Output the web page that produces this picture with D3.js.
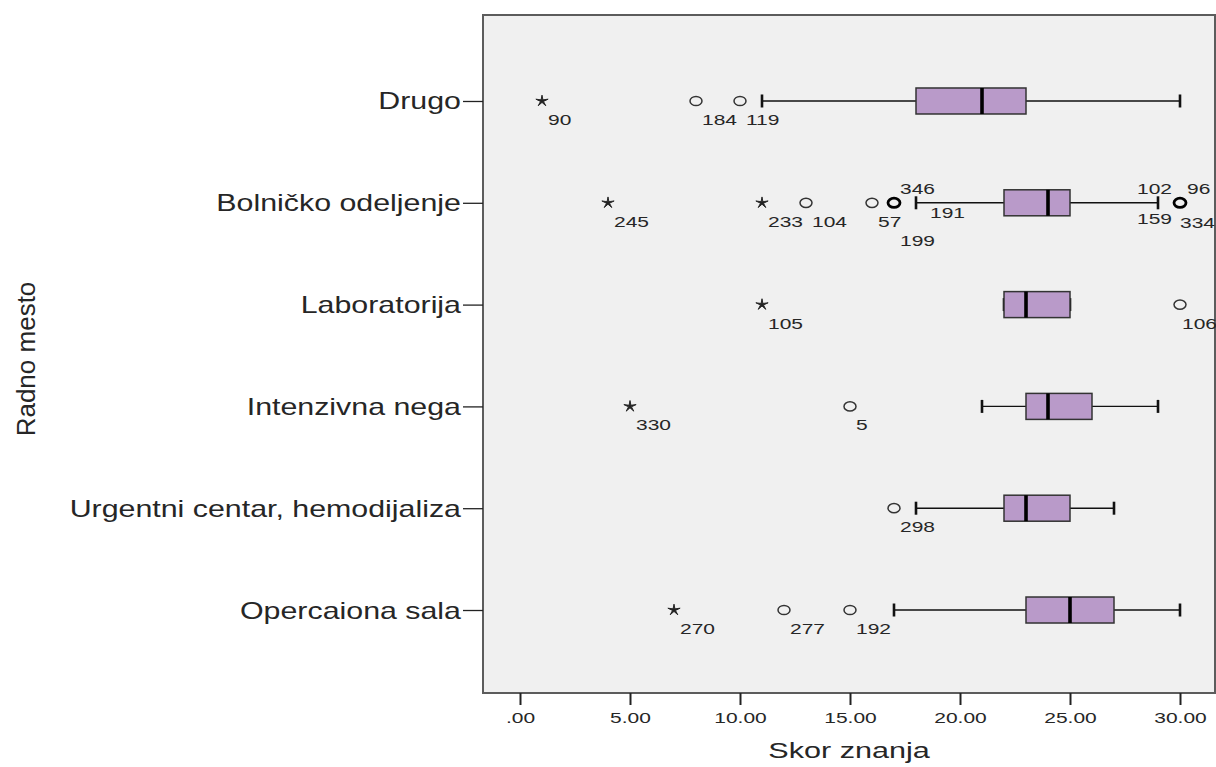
<!DOCTYPE html>
<html>
<head>
<meta charset="utf-8">
<script src="https://cdn.jsdelivr.net/npm/d3@7"></script>
<style>
  html, body { margin: 0; padding: 0; background: #ffffff; }
  svg text { font-family: "Liberation Sans", Arial, sans-serif; fill: #262626; }
</style>
</head>
<body>
<svg id="chart" width="1216" height="767"></svg>
<script>
// ---- data -------------------------------------------------------------
const categories = [
  "Drugo",
  "Bolničko odeljenje",
  "Laboratorija",
  "Intenzivna nega",
  "Urgentni centar, hemodijaliza",
  "Opercaiona sala"
];
const whiskerLow  = [11, 18, 22, 21, 18, 17];
const quartile1   = [18, 22, 22, 23, 22, 23];
const medians     = [21, 24, 23, 24, 23, 25];
const quartile3   = [23, 25, 25, 26, 25, 27];
const whiskerHigh = [30, 29, 25, 29, 27, 30];

// individual cases outside the whiskers: "o" = outlier, "*" = extreme
const caseCategory = [
  "Drugo", "Drugo", "Drugo",
  "Bolničko odeljenje", "Bolničko odeljenje", "Bolničko odeljenje", "Bolničko odeljenje",
  "Bolničko odeljenje", "Bolničko odeljenje", "Bolničko odeljenje",
  "Bolničko odeljenje", "Bolničko odeljenje", "Bolničko odeljenje", "Bolničko odeljenje",
  "Laboratorija", "Laboratorija",
  "Intenzivna nega", "Intenzivna nega",
  "Urgentni centar, hemodijaliza",
  "Opercaiona sala", "Opercaiona sala", "Opercaiona sala"
];
const caseScore = [
  1, 8, 10,
  4, 11, 13, 16,
  17, 17, 17,
  30, 30, 30, 30,
  11, 30,
  5, 15,
  17,
  7, 12, 15
];
const caseKind = [
  "*", "o", "o",
  "*", "*", "o", "o",
  "o", "o", "o",
  "o", "o", "o", "o",
  "*", "o",
  "*", "o",
  "o",
  "*", "o", "o"
];
const caseId = [
  "90", "184", "119",
  "245", "233", "104", "57",
  "346", "191", "199",
  "102", "96", "159", "334",
  "105", "106",
  "330", "5",
  "298",
  "270", "277", "192"
];

const xTickValues = [0, 5, 10, 15, 20, 25, 30];
const xTickLabels = [".00", "5.00", "10.00", "15.00", "20.00", "25.00", "30.00"];
const xTitle = "Skor znanja";
const yTitle = "Radno mesto";

// ---- layout -----------------------------------------------------------
const frame = { left: 483, right: 1215, top: 15, bottom: 693 };
const svg = d3.select("#chart");

const x = d3.scaleLinear().domain([0, 30]).range([frame.left + 37, frame.right - 35]);
const y = d3.scalePoint().domain(categories).range([frame.top + 2, frame.bottom + 1]).padding(0.825);

const boxHalf = 13;
const capHalf = 6.5;

// where a case label sits relative to its marker (text start, baseline)
const defaultNudge = [6, 24];
const labelNudge = {
  "346": [6, -9],
  "191": [36, 15],
  "199": [6, 43],
  "102": [-43, -9],
  "96":  [7, -9],
  "159": [-43, 21],
  "334": [0, 25],
  "106": [2, 24]
};

// text drawn with a horizontal stretch
function placeText(sel, px, py, sx) {
  sel.attr("x", 0).attr("y", 0)
     .attr("transform", `translate(${px},${py}) scale(${sx},1)`);
  return sel;
}

// ---- plot area --------------------------------------------------------
svg.append("rect")
  .attr("x", frame.left).attr("y", frame.top)
  .attr("width", frame.right - frame.left)
  .attr("height", frame.bottom - frame.top)
  .attr("fill", "#f0f0f0")
  .attr("stroke", "#5c5c5c")
  .attr("stroke-width", 2);

// ---- x axis -----------------------------------------------------------
const xAxis = d3.axisBottom(x)
  .tickValues(xTickValues)
  .tickFormat((d, i) => xTickLabels[i])
  .tickSize(12)
  .tickPadding(7);

const gx = svg.append("g")
  .attr("transform", `translate(0,${frame.bottom})`)
  .call(xAxis);
gx.select(".domain").remove();
gx.selectAll(".tick line").attr("stroke", "#222").attr("stroke-width", 2);
gx.selectAll(".tick text")
  .attr("font-size", 15)
  .attr("font-family", "'Liberation Sans', Arial, sans-serif")
  .attr("fill", "#262626")
  .attr("transform", "scale(1.4,1)");

placeText(svg.append("text"), (frame.left + frame.right) / 2, 758, 1.39)
  .attr("text-anchor", "middle")
  .attr("font-size", 22)
  .text(xTitle);

// ---- y axis -----------------------------------------------------------
const yAxis = d3.axisLeft(y).tickSize(20).tickFormat("");
const gy = svg.append("g")
  .attr("transform", `translate(${frame.left},0)`)
  .call(yAxis);
gy.select(".domain").remove();
gy.selectAll(".tick line").attr("stroke", "#222").attr("stroke-width", 1.3);

svg.append("g").selectAll("text")
  .data(categories)
  .join("text")
  .attr("text-anchor", "end")
  .attr("font-size", 23)
  .each(function (d) {
    placeText(d3.select(this), frame.left - 22, y(d) + 8.5, 1.32);
  })
  .text(d => d);

svg.append("text")
  .attr("transform", `translate(35,${(frame.top + frame.bottom) / 2 + 5}) rotate(-90)`)
  .attr("text-anchor", "middle")
  .attr("font-size", 26)
  .text(yTitle);

// ---- boxes ------------------------------------------------------------
const boxes = categories.map((c, i) => ({
  category: c,
  low: whiskerLow[i], q1: quartile1[i], med: medians[i], q3: quartile3[i], high: whiskerHigh[i]
}));

const gb = svg.append("g").selectAll("g")
  .data(boxes)
  .join("g")
  .attr("transform", d => `translate(0,${y(d.category)})`);

gb.append("line")
  .attr("x1", d => x(d.low)).attr("x2", d => x(d.high))
  .attr("stroke", "#111").attr("stroke-width", 1.4);

gb.selectAll(".cap")
  .data(d => [d.low, d.high])
  .join("line")
  .attr("class", "cap")
  .attr("x1", v => x(v)).attr("x2", v => x(v))
  .attr("y1", -capHalf).attr("y2", capHalf)
  .attr("stroke", "#111").attr("stroke-width", 2.6);

gb.append("rect")
  .attr("x", d => x(d.q1))
  .attr("width", d => x(d.q3) - x(d.q1))
  .attr("y", -boxHalf).attr("height", boxHalf * 2)
  .attr("fill", "#b99ac9")
  .attr("stroke", "#333")
  .attr("stroke-width", 1.5);

gb.append("line")
  .attr("x1", d => x(d.med)).attr("x2", d => x(d.med))
  .attr("y1", -boxHalf).attr("y2", boxHalf)
  .attr("stroke", "#000").attr("stroke-width", 3.6);

// ---- outliers and extremes --------------------------------------------
const cases = caseId.map((id, i) => ({
  id, category: caseCategory[i], score: caseScore[i], kind: caseKind[i]
}));

const markers = d3.groups(cases, d => d.category + "|" + d.score)
  .map(([key, list]) => ({
    category: list[0].category, score: list[0].score, kind: list[0].kind, count: list.length
  }));

// thin five-armed star for extreme values
const thinStar = {
  draw(context, size) {
    const outer = Math.sqrt(size) / 1.3;
    const inner = outer * 0.24;
    for (let k = 0; k < 10; k++) {
      const r = k % 2 === 0 ? outer : inner;
      const a = -Math.PI / 2 + k * Math.PI / 5;
      const px = r * Math.cos(a), py = r * Math.sin(a);
      if (k === 0) context.moveTo(px, py); else context.lineTo(px, py);
    }
    context.closePath();
  }
};

const gm = svg.append("g");
gm.selectAll("ellipse")
  .data(markers.filter(d => d.kind === "o"))
  .join("ellipse")
  .attr("cx", d => x(d.score))
  .attr("cy", d => y(d.category))
  .attr("rx", 6).attr("ry", 4.6)
  .attr("fill", "none")
  .attr("stroke", d => d.count > 1 ? "#000" : "#333")
  .attr("stroke-width", d => d.count > 1 ? 2.8 : 1.5);

gm.selectAll("path")
  .data(markers.filter(d => d.kind === "*"))
  .join("path")
  .attr("d", d3.symbol().type(thinStar).size(58))
  .attr("transform", d => `translate(${x(d.score)},${y(d.category)}) scale(1.1,1)`)
  .attr("fill", "#222")
  .attr("stroke", "#222")
  .attr("stroke-width", 0.9)
  .attr("stroke-linejoin", "round");

svg.append("g").selectAll("text")
  .data(cases)
  .join("text")
  .attr("font-size", 15)
  .each(function (d) {
    const n = labelNudge[d.id] || defaultNudge;
    placeText(d3.select(this), x(d.score) + n[0], y(d.category) + n[1], 1.4);
  })
  .text(d => d.id);
</script>
</body>
</html>
